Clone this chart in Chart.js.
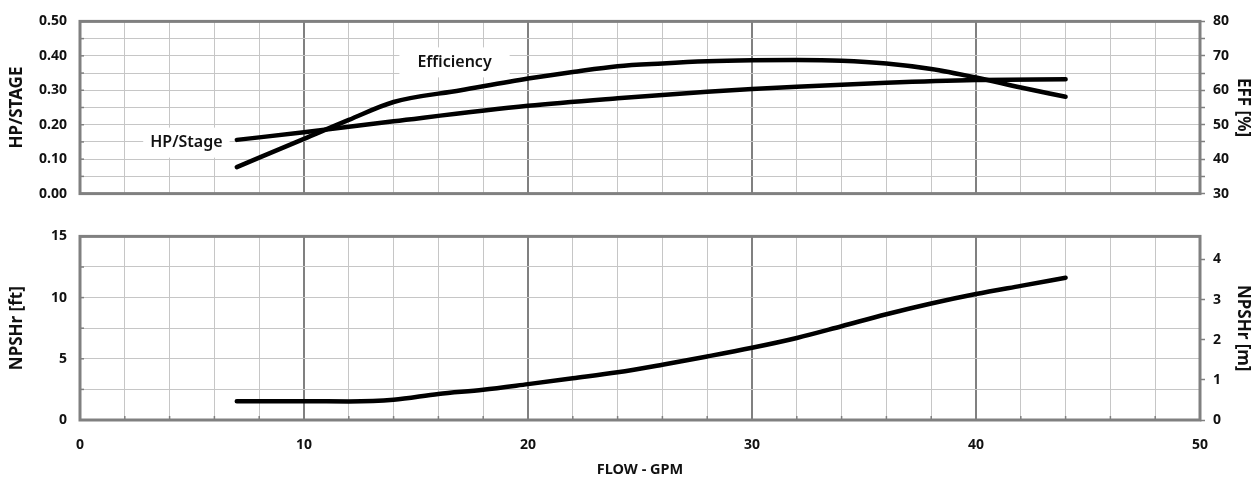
<!DOCTYPE html>
<html><head><meta charset="utf-8">
<script src="https://cdn.jsdelivr.net/npm/chart.js@4/dist/chart.umd.min.js"></script>
<style>
html,body{margin:0;padding:0;background:#fff;overflow:hidden;}
#wrap{position:relative;width:1257px;height:482px;}
#c1{position:absolute;left:0;top:0;}
#c2{position:absolute;left:0;top:215px;}
</style></head><body>
<div id="wrap">
<canvas id="c1" width="1257" height="215"></canvas>
<canvas id="c2" width="1257" height="267"></canvas>
</div>
<script>
// ---- data ----
const hpFlow   = [7, 10, 14, 20, 24, 28, 30, 33, 36, 40, 44];
const hpValues = [0.156, 0.178, 0.210, 0.255, 0.277, 0.296, 0.304, 0.313, 0.322, 0.330, 0.332];

const effFlow   = [7, 10, 12, 14, 17, 20, 22, 24, 26, 28, 30, 32, 34, 36, 38, 40, 42, 44];
const effValues = [37.7, 45.9, 51.4, 56.6, 60.0, 63.4, 65.3, 67.0, 67.8, 68.4, 68.7, 68.8, 68.6, 67.8, 66.2, 63.7, 60.8, 58.1];

const npshFlow   = [7, 10, 12, 14, 16, 18, 20, 22, 24, 26, 28, 30, 32, 34, 36, 38, 40, 42, 44];
const npshValues = [1.54, 1.54, 1.52, 1.65, 2.13, 2.47, 2.93, 3.41, 3.90, 4.52, 5.19, 5.90, 6.70, 7.66, 8.64, 9.52, 10.29, 10.96, 11.62];

const flowLabelStep = 10;      // labelled flow ticks
const hpLabels   = [0, 0.1, 0.2, 0.3, 0.4, 0.5];
const effLabels  = [30, 40, 50, 60, 70, 80];
const ftLabels   = [0, 5, 10, 15];
const mLabels    = [0, 1, 2, 3, 4];
const FT_PER_M = 3.2808;

// ---- styling helpers ----
const FONT = '"Noto Sans", "Open Sans", sans-serif';
const GRID_LIGHT = '#c6c6c6';
const GRID_DARK = '#808080';
const isMajorFlow = v => Math.abs(v % flowLabelStep) < 1e-6;
const near = (v, arr) => arr.some(a => Math.abs(a - v) < 1e-6);
const pts = (xs, ys) => xs.map((x, i) => ({x, y: ys[i]}));

const framePlugin = {
  id: 'frame',
  beforeDatasetsDraw(chart, args, opts) {
    const {ctx, chartArea: a} = chart;
    ctx.save();
    ctx.strokeStyle = GRID_DARK;
    ctx.lineWidth = 1.5;
    const ys = chart.scales.y;
    ys.ticks.forEach(t => {
      const py = ys.getPixelForValue(t.value);
      ctx.beginPath(); ctx.moveTo(a.left, py); ctx.lineTo(a.left + 4, py); ctx.stroke();
    });
    if (opts.xMarks) {
      const xs = chart.scales.x;
      xs.ticks.forEach(t => {
        const px = xs.getPixelForValue(t.value);
        ctx.beginPath(); ctx.moveTo(px, a.bottom); ctx.lineTo(px, a.bottom - 4); ctx.stroke();
      });
    }
    (opts.labels || []).forEach(l => {
      const px = chart.scales.x.getPixelForValue(l.x);
      const py = chart.scales.y.getPixelForValue(l.y);
      ctx.font = '600 16px ' + FONT;
      const w = ctx.measureText(l.text).width;
      ctx.fillStyle = '#fff';
      ctx.fillRect(px - w / 2 - l.padX, py - 15, w + 2 * l.padX, 30);
      ctx.fillStyle = '#111';
      ctx.textAlign = 'center';
      ctx.textBaseline = 'middle';
      ctx.fillText(l.text, px, py);
    });
    ctx.strokeStyle = GRID_DARK;
    ctx.lineWidth = 3;
    ctx.strokeRect(a.left, a.top, a.right - a.left, a.bottom - a.top);
    ctx.restore();
  }
};

const tickFont = {family: FONT, size: 14, weight: 'bold'};
const titleFont = {family: FONT, size: 17, weight: 'bold'};

function xScale(showLabels, height) {
  return {
    type: 'linear', min: 0, max: 50,
    ticks: {
      display: showLabels, stepSize: 2, autoSkip: false, maxRotation: 0, padding: 17,
      color: '#111', font: tickFont,
      callback: v => isMajorFlow(v) ? String(v) : ''
    },
    grid: {
      drawTicks: false,
      color: c => isMajorFlow(c.tick.value) ? GRID_DARK : GRID_LIGHT,
      lineWidth: c => isMajorFlow(c.tick.value) ? 2 : 1
    },
    border: {display: false},
    title: showLabels ? {display: true, text: 'FLOW - GPM', color: '#111', font: {family: FONT, size: 14.5, weight: 'bold'}, padding: {top: 0, bottom: 3}} : {display: false},
    afterFit: s => { s.height = height; }
  };
}

function leftScale(min, max, step, labels, fmt, title) {
  return {
    position: 'left', min, max,
    ticks: {stepSize: step, autoSkip: false, padding: 13, color: '#111', font: tickFont,
      callback: v => near(v, labels) ? fmt(v) : ''},
    grid: {drawTicks: false, color: GRID_LIGHT, lineWidth: 1},
    border: {display: false},
    title: {display: true, text: title, color: '#111', font: titleFont, padding: {top: 7}},
    afterFit: s => { s.width = 80; }
  };
}

function rightScale(min, max, step, labels, title, filterInt) {
  const o = {
    position: 'right', min, max,
    ticks: {stepSize: step, autoSkip: false, padding: 8, color: '#111', font: tickFont,
      callback: v => near(v, labels) ? String(Math.round(v)) : ''},
    grid: {drawOnChartArea: false, drawTicks: true, tickLength: 5, color: GRID_DARK, tickColor: GRID_DARK, tickWidth: 1.5},
    border: {display: false},
    title: {display: true, text: title, color: '#111', font: titleFont, padding: {top: 4}},
    afterFit: s => { s.width = 57; }
  };
  if (filterInt) o.afterBuildTicks = s => { s.ticks = s.ticks.filter(t => Math.abs(t.value - Math.round(t.value)) < 1e-6); };
  return o;
}

const lineStyle = {borderColor: '#000', borderWidth: 4.5, pointRadius: 0, fill: false,
  cubicInterpolationMode: 'monotone', borderCapStyle: 'round', borderJoinStyle: 'round'};

new Chart(document.getElementById('c1'), {
  type: 'line',
  data: {datasets: [
    Object.assign({label: 'HP/Stage', data: pts(hpFlow, hpValues), yAxisID: 'y'}, lineStyle),
    Object.assign({label: 'Efficiency', data: pts(effFlow, effValues), yAxisID: 'y1'}, lineStyle)
  ]},
  options: {
    responsive: false, animation: false,
    layout: {padding: {top: 17, left: 0, right: 0, bottom: 0}},
    plugins: {legend: {display: false}, tooltip: {enabled: false},
      frame: {labels: [
        {text: 'HP/Stage', x: 4.75, y: 0.148, padX: 7},
        {text: 'Efficiency', x: 16.72, y: 0.381, padX: 18}
      ]}},
    scales: {
      x: xScale(false, 12),
      y: leftScale(0, 0.5, 0.05, hpLabels, v => v.toFixed(2), 'HP/STAGE'),
      y1: rightScale(30, 80, 5, effLabels, 'EFF [%]', false)
    }
  },
  plugins: [framePlugin]
});

new Chart(document.getElementById('c2'), {
  type: 'line',
  data: {datasets: [
    Object.assign({label: 'NPSHr', data: pts(npshFlow, npshValues), yAxisID: 'y'}, lineStyle)
  ]},
  options: {
    responsive: false, animation: false,
    layout: {padding: {top: 17, left: 0, right: 0, bottom: 0}},
    plugins: {legend: {display: false}, tooltip: {enabled: false}, frame: {xMarks: true}},
    scales: {
      x: xScale(true, 62),
      y: leftScale(0, 15, 2.5, ftLabels, v => String(Math.round(v)), 'NPSHr [ft]'),
      y1: rightScale(0, 15 / FT_PER_M, 1, mLabels, 'NPSHr [m]', true)
    }
  },
  plugins: [framePlugin]
});
</script>
</body></html>
